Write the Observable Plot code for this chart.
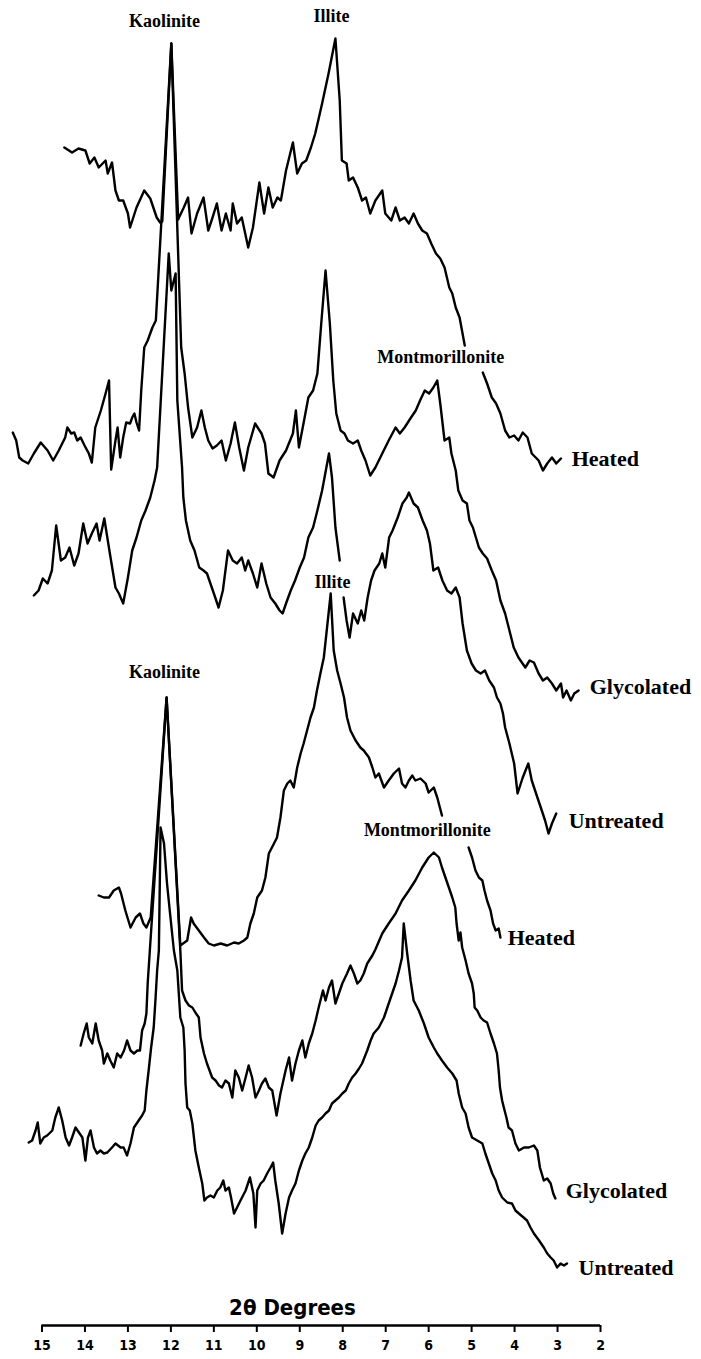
<!DOCTYPE html>
<html>
<head>
<meta charset="utf-8">
<script src="https://cdn.jsdelivr.net/npm/d3@7"></script>
<script src="https://cdn.jsdelivr.net/npm/@observablehq/plot@0.6"></script>
<style>
  html, body { margin: 0; padding: 0; background: #fff; }
  #chart svg { display: block; }
</style>
</head>
<body>
<div id="chart"></div>
<script>
// 2θ tick labels of the axis
const twoThetaTicks = [15, 14, 13, 12, 11, 10, 9, 8, 7, 6, 5, 4, 3, 2];

// Each pattern: [2θ (degrees), intensity (stacked, arbitrary counts)]; null = break in the trace
const heatedUpper = [[14.48,1178],[14.30,1173],[14.15,1177],[13.99,1175],[13.89,1162],[13.78,1168],[13.68,1158],[13.52,1165],[13.47,1152],[13.37,1163],[13.29,1135],[13.21,1125],[13.11,1125],[13.00,1112],[12.95,1098],[12.80,1118],[12.62,1135],[12.48,1127],[12.33,1108],[12.25,1103],[12.20,1104],[11.99,1282],[11.83,1106],[11.81,1108],[11.70,1118],[11.60,1128],[11.52,1092],[11.39,1112],[11.24,1128],[11.13,1095],[11.03,1108],[10.93,1122],[10.82,1095],[10.72,1112],[10.61,1095],[10.56,1122],[10.46,1102],[10.35,1108],[10.27,1092],[10.20,1078],[10.09,1098],[9.94,1143],[9.83,1112],[9.73,1138],[9.63,1118],[9.52,1128],[9.44,1125],[9.32,1155],[9.16,1183],[9.06,1152],[8.95,1162],[8.85,1165],[8.74,1178],[8.64,1192],[8.48,1222],[8.33,1252],[8.17,1287],[8.07,1225],[8.02,1165],[7.91,1162],[7.86,1145],[7.76,1148],[7.65,1138],[7.55,1125],[7.46,1128],[7.36,1112],[7.24,1125],[7.08,1135],[7.01,1112],[6.87,1105],[6.77,1118],[6.67,1105],[6.56,1108],[6.46,1102],[6.35,1112],[6.25,1102],[6.15,1095],[6.04,1092],[5.94,1082],[5.83,1072],[5.73,1067],[5.63,1058],[5.52,1038],[5.45,1032],[5.37,1018],[5.28,1008],[5.16,980],null,[4.74,953],[4.64,942],[4.53,928],[4.43,922],[4.33,912],[4.22,895],[4.12,888],[4.01,890],[3.91,885],[3.81,893],[3.70,888],[3.60,872],[3.44,865],[3.34,855],[3.24,862],[3.13,868],[3.03,862],[2.92,867]];

const glycolatedUpper = [[15.68,893],[15.60,885],[15.53,868],[15.45,865],[15.32,862],[15.19,872],[15.03,883],[14.87,875],[14.74,865],[14.61,875],[14.46,888],[14.41,898],[14.32,892],[14.25,893],[14.18,885],[14.10,888],[14.01,880],[13.91,872],[13.84,863],[13.76,898],[13.63,915],[13.52,932],[13.44,945],[13.39,856],[13.29,885],[13.24,898],[13.18,868],[13.11,888],[13.04,903],[12.95,902],[12.90,908],[12.85,912],[12.80,903],[12.74,895],[12.69,935],[12.62,978],[12.54,985],[12.43,998],[12.35,1005],[11.99,1282],[11.76,978],[11.68,952],[11.60,918],[11.50,888],[11.39,898],[11.29,915],[11.21,898],[11.13,885],[11.03,877],[10.93,880],[10.82,885],[10.72,865],[10.61,882],[10.51,903],[10.41,878],[10.30,855],[10.20,878],[10.04,902],[9.89,892],[9.81,882],[9.73,852],[9.61,848],[9.47,865],[9.32,875],[9.16,892],[9.09,915],[9.02,878],[8.90,905],[8.80,928],[8.69,935],[8.59,952],[8.50,1002],[8.40,1055],[8.30,1002],[8.22,945],[8.15,912],[8.05,895],[7.96,892],[7.88,885],[7.76,882],[7.65,885],[7.57,875],[7.47,865],[7.36,850],[7.24,858],[7.08,872],[6.93,885],[6.77,898],[6.67,892],[6.56,898],[6.41,908],[6.30,915],[6.20,925],[6.09,935],[5.99,932],[5.89,938],[5.80,945],[5.73,922],[5.63,885],[5.52,888],[5.47,872],[5.37,855],[5.31,835],[5.21,825],[5.11,822],[5.05,805],[4.97,798],[4.90,788],[4.83,778],[4.74,772],[4.64,767],[4.53,755],[4.43,745],[4.33,725],[4.22,712],[4.12,695],[4.02,678],[3.91,668],[3.75,658],[3.65,665],[3.55,663],[3.44,652],[3.34,645],[3.24,648],[3.13,642],[3.03,635],[2.92,642],[2.87,628],[2.79,635],[2.69,625],[2.61,632],[2.51,635]];

const untreatedUpper = [[15.19,730],[15.08,735],[14.98,747],[14.87,742],[14.77,755],[14.67,800],[14.56,765],[14.46,768],[14.36,778],[14.25,760],[14.15,772],[14.04,802],[13.94,782],[13.84,792],[13.73,802],[13.66,785],[13.55,807],[13.42,772],[13.29,738],[13.21,732],[13.11,722],[13.00,748],[12.90,775],[12.80,788],[12.69,805],[12.59,815],[12.48,828],[12.38,845],[12.32,858],[12.05,1072],[11.99,1035],[11.89,1052],[11.85,925],[11.74,858],[11.71,828],[11.65,805],[11.55,785],[11.45,775],[11.34,758],[11.24,755],[11.16,752],[11.08,742],[11.00,732],[10.89,718],[10.79,735],[10.67,775],[10.56,765],[10.46,762],[10.35,768],[10.27,755],[10.20,765],[10.09,752],[9.99,738],[9.89,762],[9.78,742],[9.68,728],[9.57,722],[9.47,715],[9.40,712],[9.32,722],[9.21,735],[9.11,745],[9.00,758],[8.90,768],[8.80,788],[8.69,798],[8.59,815],[8.48,835],[8.32,872],[8.25,848],[8.17,798],[8.07,765],null,[7.98,728],[7.91,705],[7.84,688],[7.76,712],[7.65,702],[7.57,715],[7.50,705],[7.42,728],[7.34,745],[7.26,755],[7.15,762],[7.08,772],[7.01,758],[6.92,788],[6.84,795],[6.72,808],[6.61,822],[6.51,828],[6.46,833],[6.35,822],[6.25,818],[6.14,805],[6.04,795],[5.97,782],[5.89,755],[5.78,758],[5.68,745],[5.57,735],[5.47,732],[5.37,738],[5.28,728],[5.21,702],[5.11,675],[5.00,662],[4.90,655],[4.79,652],[4.69,655],[4.59,645],[4.48,638],[4.41,628],[4.33,622],[4.27,612],[4.22,598],[4.12,582],[4.01,562],[3.93,532],[3.81,548],[3.68,562],[3.60,545],[3.50,532],[3.39,518],[3.29,505],[3.21,492],[3.13,502],[3.03,512]];

const heatedLower = [[13.68,430],[13.56,428],[13.44,428],[13.33,435],[13.21,438],[13.16,432],[13.06,415],[12.94,398],[12.82,408],[12.72,412],[12.64,402],[12.57,398],[12.47,408],[12.10,628],[11.78,380],[11.62,385],[11.53,408],[11.47,402],[11.35,395],[11.23,388],[11.12,382],[11.00,380],[10.84,382],[10.69,380],[10.53,383],[10.42,382],[10.30,385],[10.22,388],[10.15,402],[10.07,412],[9.99,428],[9.88,435],[9.80,448],[9.72,472],[9.60,482],[9.53,488],[9.45,508],[9.37,535],[9.29,542],[9.22,545],[9.14,538],[9.06,558],[8.98,572],[8.91,582],[8.83,595],[8.75,608],[8.67,618],[8.60,635],[8.52,652],[8.44,668],[8.28,732],[8.21,675],[8.13,655],[8.05,642],[7.97,628],[7.90,608],[7.82,595],[7.70,585],[7.59,578],[7.51,575],[7.39,568],[7.31,558],[7.24,548],[7.16,552],[7.04,538],[6.93,545],[6.81,552],[6.69,557],[6.62,542],[6.54,538],[6.46,545],[6.38,550],[6.31,545],[6.19,547],[6.07,542],[6.00,533],[5.88,538],[5.80,528],[5.69,510],null,[5.07,478],[4.99,468],[4.91,455],[4.83,448],[4.75,445],[4.70,435],[4.64,425],[4.56,415],[4.50,402],[4.44,395],[4.37,397],[4.33,388]];

const glycolatedLower = [[14.10,280],[14.03,292],[13.96,302],[13.91,288],[13.83,282],[13.75,302],[13.68,285],[13.60,275],[13.56,262],[13.48,272],[13.41,265],[13.33,258],[13.25,272],[13.17,268],[13.09,275],[13.02,285],[12.94,275],[12.86,272],[12.78,275],[12.72,275],[12.67,295],[12.61,302],[12.57,312],[12.54,342],[12.49,375],[12.10,628],[11.78,375],[11.74,335],[11.66,325],[11.58,320],[11.50,318],[11.43,313],[11.35,308],[11.31,288],[11.23,272],[11.16,262],[11.04,248],[10.96,245],[10.88,240],[10.81,238],[10.73,245],[10.65,242],[10.57,228],[10.50,255],[10.42,248],[10.34,235],[10.26,248],[10.19,260],[10.11,248],[10.03,228],[9.95,235],[9.88,242],[9.80,247],[9.72,238],[9.64,235],[9.54,210],[9.45,232],[9.33,255],[9.25,268],[9.18,245],[9.10,262],[9.02,275],[8.94,285],[8.87,268],[8.79,282],[8.71,292],[8.63,305],[8.56,318],[8.46,335],[8.40,325],[8.32,338],[8.25,345],[8.17,322],[8.09,332],[8.01,342],[7.90,352],[7.82,360],[7.74,352],[7.66,342],[7.59,345],[7.51,352],[7.43,362],[7.31,370],[7.24,376],[7.08,392],[6.93,402],[6.77,412],[6.62,425],[6.46,435],[6.31,445],[6.15,458],[6.00,468],[5.88,473],[5.76,468],[5.69,458],[5.61,448],[5.53,438],[5.45,428],[5.38,418],[5.35,402],[5.30,385],[5.26,393],[5.22,378],[5.14,365],[5.07,352],[4.99,342],[4.95,332],[4.93,318],[4.87,315],[4.79,308],[4.72,305],[4.64,303],[4.56,292],[4.48,282],[4.41,272],[4.37,255],[4.34,238],[4.29,225],[4.25,218],[4.19,208],[4.14,198],[4.06,195],[3.98,182],[3.90,175],[3.78,178],[3.67,178],[3.55,180],[3.47,175],[3.41,158],[3.32,145],[3.24,147],[3.16,142],[3.10,132],[3.05,127]];

const untreatedLower = [[15.31,183],[15.23,185],[15.15,195],[15.10,203],[15.04,182],[14.96,188],[14.88,190],[14.76,195],[14.69,208],[14.61,218],[14.53,205],[14.45,188],[14.37,180],[14.30,188],[14.22,198],[14.14,193],[14.06,188],[13.99,165],[13.93,188],[13.87,195],[13.79,178],[13.72,172],[13.64,175],[13.56,172],[13.48,173],[13.37,178],[13.29,182],[13.17,178],[13.10,178],[13.02,170],[12.94,182],[12.86,198],[12.75,205],[12.67,210],[12.61,215],[12.57,235],[12.51,258],[12.46,278],[12.40,298],[12.36,325],[12.32,355],[12.28,375],[12.24,498],[12.16,482],[12.09,442],[12.01,408],[11.93,375],[11.85,355],[11.78,308],[11.71,298],[11.68,275],[11.66,242],[11.62,218],[11.56,215],[11.50,202],[11.43,175],[11.35,158],[11.27,142],[11.22,125],[11.16,128],[11.08,130],[11.00,128],[10.92,135],[10.85,138],[10.78,145],[10.73,135],[10.65,138],[10.60,128],[10.53,112],[10.46,118],[10.38,125],[10.26,135],[10.16,148],[10.08,132],[10.03,98],[9.99,135],[9.91,142],[9.84,145],[9.76,152],[9.68,158],[9.62,163],[9.57,145],[9.49,122],[9.41,92],[9.33,112],[9.25,128],[9.18,135],[9.10,142],[9.02,155],[8.94,165],[8.87,172],[8.79,178],[8.71,188],[8.63,200],[8.56,205],[8.48,208],[8.40,212],[8.32,215],[8.25,222],[8.17,225],[8.09,228],[8.01,232],[7.93,235],[7.86,242],[7.78,248],[7.70,252],[7.62,257],[7.55,262],[7.43,275],[7.35,285],[7.28,292],[7.16,298],[7.04,308],[6.93,322],[6.85,332],[6.77,342],[6.69,355],[6.62,368],[6.58,402],[6.50,372],[6.42,345],[6.35,325],[6.23,315],[6.11,302],[6.00,288],[5.88,278],[5.80,272],[5.69,265],[5.57,258],[5.45,252],[5.35,245],[5.30,232],[5.22,218],[5.14,212],[5.07,198],[4.99,188],[4.87,185],[4.75,182],[4.68,172],[4.60,162],[4.52,152],[4.44,145],[4.37,135],[4.29,128],[4.17,123],[4.06,122],[3.98,115],[3.90,112],[3.79,108],[3.71,105],[3.63,98],[3.55,92],[3.43,85],[3.32,78],[3.24,72],[3.16,68],[3.09,65],[3.01,58],[2.93,62],[2.85,60],[2.78,62]];

// Peak annotations (mineral) and pattern names (treatment), anchored in 2θ / intensity units
const mineralNames = ["Kaolinite", "Illite", "Montmorillonite", "Illite", "Kaolinite", "Montmorillonite"];
const mineralAt2Theta = [12.15, 8.26, 5.72, 8.24, 12.15, 6.03];
const mineralAtIntensity = [1304, 1309, 968, 743, 653, 495];

const treatmentNames = ["Heated", "Glycolated", "Untreated", "Heated", "Glycolated", "Untreated"];
const treatmentAt2Theta = [2.67, 2.25, 2.74, 4.16, 2.81, 2.51];
const treatmentAtIntensity = [867, 639, 505, 388, 135, 58];

const axisTitle = "2θ Degrees";

// ---- build tables ----
const patterns = [
  ["Heated (upper)", heatedUpper],
  ["Glycolated (upper)", glycolatedUpper],
  ["Untreated (upper)", untreatedUpper],
  ["Heated (lower)", heatedLower],
  ["Glycolated (lower)", glycolatedLower],
  ["Untreated (lower)", untreatedLower]
];
const rows = patterns.flatMap(([id, pts]) =>
  pts.map(p => p ? {id, t: p[0], v: p[1]} : {id, t: NaN, v: NaN}));

const minerals = mineralNames.map((text, i) => ({text, t: mineralAt2Theta[i], v: mineralAtIntensity[i]}));
const treatments = treatmentNames.map((text, i) => ({text, t: treatmentAt2Theta[i], v: treatmentAtIntensity[i]}));

const serif = "'Liberation Serif', 'DejaVu Serif', serif";
const condensed = "'DejaVu Sans Condensed', 'DejaVu Sans', sans-serif";

const chart = Plot.plot({
  width: 701,
  height: 1359,
  marginTop: 0,
  marginRight: 101,
  marginBottom: 34,
  marginLeft: 41.5,
  style: {background: "#fff", color: "#000", fontFamily: condensed},
  x: {domain: [15, 2], axis: null},
  y: {domain: [0, 1325], axis: null},
  marks: [
    Plot.ruleY([0], {stroke: "#000", strokeWidth: 2.6}),
    Plot.axisX({
      ticks: twoThetaTicks,
      tickSize: 7,
      tickPadding: 8,
      tickFormat: d => String(d),
      label: null,
      stroke: "#000",
      strokeWidth: 2,
      fontSize: 14,
      fontWeight: "bold",
      fontFamily: condensed
    }),
    Plot.line(rows, {x: "t", y: "v", z: "id", stroke: "#000", strokeWidth: 2.4, strokeLinejoin: "round", strokeLinecap: "round"}),
    Plot.text(minerals, {x: "t", y: "v", text: "text", fontFamily: serif, fontWeight: "bold", fontSize: 18, fill: "#000"}),
    Plot.text(treatments, {x: "t", y: "v", text: "text", textAnchor: "start", fontFamily: serif, fontWeight: "bold", fontSize: 22, fill: "#000"}),
    Plot.text([axisTitle], {x: 9.17, y: 18, text: d => d, fontFamily: condensed, fontWeight: "bold", fontSize: 22, fill: "#000"})
  ]
});
document.getElementById("chart").appendChild(chart);
</script>
</body>
</html>
